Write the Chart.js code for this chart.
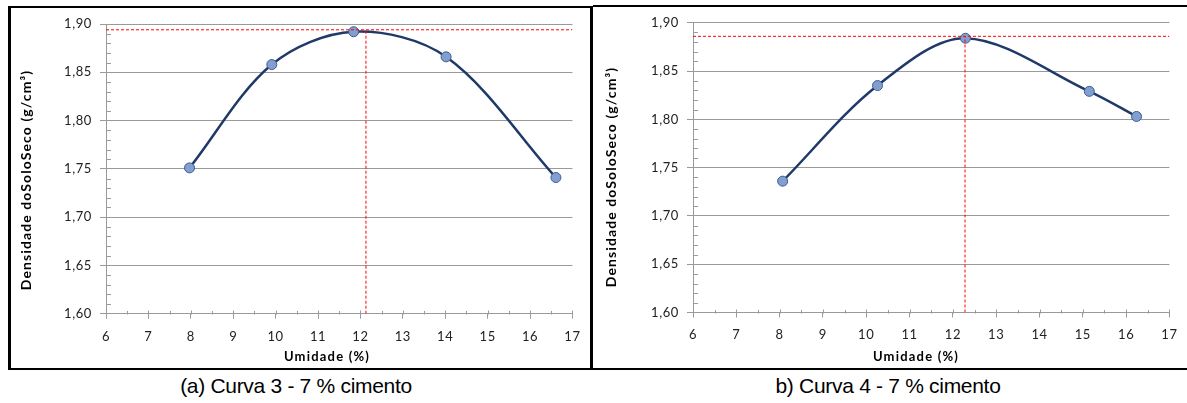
<!DOCTYPE html>
<html>
<head>
<meta charset="utf-8">
<script src="https://cdn.jsdelivr.net/npm/chart.js@4.4.1/dist/chart.umd.min.js"></script>
<style>
  html, body { margin: 0; padding: 0; background: #fff; width: 1187px; height: 403px; overflow: hidden; }
  .box { position: absolute; box-sizing: border-box; border-color: #000; border-style: solid; }
  #boxA { left: 8px; top: 6px; width: 585px; height: 364px; border-width: 2px 3px 2px 3px; }
  #boxB { left: 593px; top: 5px; width: 600px; height: 365px; border-width: 2px 0 2px 0; }
  canvas { position: absolute; }
  #chartA { left: 11px; top: 8px; }
  #chartB { left: 593px; top: 7px; }
  .caption { position: absolute; top: 374px; height: 24px; line-height: 24px; font: 21px 'Liberation Sans', Arial, sans-serif; letter-spacing: -0.3px; color: #000; text-align: center; width: 400px; }
</style>
</head>
<body>
<div class="box" id="boxA"></div>
<div class="box" id="boxB"></div>
<canvas id="chartA" width="579" height="360"></canvas>
<canvas id="chartB" width="594" height="361"></canvas>
<div class="caption" style="left:96px">(a) Curva 3 - 7 % cimento</div>
<div class="caption" style="left:688px">b) Curva 4 - 7 % cimento</div>
<script>
// Curva 3 - 7 % cimento
const umidadeA = [7.97, 9.91, 11.84, 14.02, 16.61];
const densidadeA = [1.751, 1.858, 1.892, 1.866, 1.741];
const umidadeOtimaA = 12.13;
const densidadeMaxA = 1.894;

// Curva 4 - 7 % cimento
const umidadeB = [8.07, 10.26, 12.29, 15.15, 16.24];
const densidadeB = [1.736, 1.835, 1.884, 1.829, 1.803];
const umidadeOtimaB = 12.28;
const densidadeMaxB = 1.886;

const X_MIN = 6, X_MAX = 17;
const Y_MIN = 1.60, Y_MAX = 1.90;
const X_TITLE = 'Umidade (%)';
const Y_TITLE = 'Densidade doSoloSeco (g/cm\u00B3)';

const AXIS_GREY = '#9a9a9a';
const LINE_BLUE = '#1f3a68';

// minor ticks + axis titles (Excel style)
const excelAxes = {
  id: 'excelAxes',
  beforeDraw(chart) { chart.ctx.letterSpacing = '0.6px'; },
  afterDraw(chart, args, o) {
    const { ctx, scales: { x, y } } = chart;
    ctx.save();
    ctx.letterSpacing = '0px';
    ctx.strokeStyle = AXIS_GREY;
    ctx.lineWidth = 1;
    ctx.beginPath();
    const axisX = Math.round(x.left) + 0.5, axisY = Math.round(y.bottom) + 0.5;
    for (let v = 1.61; v < Y_MAX; v += 0.01) {
      if (Math.abs(v * 20 - Math.round(v * 20)) < 1e-6) continue;
      const py = Math.round(y.getPixelForValue(v)) + 0.5;
      ctx.moveTo(axisX, py); ctx.lineTo(axisX + 4.5, py);
    }
    for (let v = X_MIN + 0.5; v <= X_MAX; v += 0.5) {
      const px = Math.round(x.getPixelForValue(v)) + 0.5;
      ctx.moveTo(px, axisY); ctx.lineTo(px, axisY - (Number.isInteger(v) ? 4 : 3.5));
    }
    ctx.stroke();

    ctx.fillStyle = '#000';
    ctx.textAlign = 'center';
    ctx.textBaseline = 'middle';
    ctx.font = 'bold 13px Lato, sans-serif';
    ctx.letterSpacing = '1.2px';
    ctx.fillText(X_TITLE, o.xTitleX, o.xTitleY);
    ctx.translate(o.yTitleX, o.yTitleY);
    ctx.rotate(-Math.PI / 2);
    ctx.font = 'bold 14px Lato, sans-serif';
    ctx.letterSpacing = '1.1px';
    ctx.fillText(Y_TITLE, 0, 0);
    ctx.restore();
  }
};

function makeChart(id, umidade, densidade, umidadeOtima, densidadeMax, geo) {
  const points = umidade.map((u, i) => ({ x: u, y: densidade[i] }));
  return new Chart(document.getElementById(id), {
    type: 'scatter',
    data: {
      datasets: [
        { data: [{ x: X_MIN, y: densidadeMax }, { x: X_MAX, y: densidadeMax }], showLine: true, borderColor: '#ff0000', borderWidth: 1, borderDash: [3, 2], pointRadius: 0, order: 0 },
        { data: [{ x: umidadeOtima, y: Y_MIN }, { x: umidadeOtima, y: densidadeMax }], showLine: true, borderColor: '#ff0000', borderWidth: 1, borderDash: [3, 2], pointRadius: 0, order: 0 },
        { data: points, showLine: true, tension: 0.33, borderColor: LINE_BLUE, borderWidth: 2.5,
          pointRadius: 5, pointBackgroundColor: '#829fd0', pointBorderColor: '#3b5d93', pointBorderWidth: 1, order: 1 },
      ],
    },
    options: {
      responsive: false, animation: false,
      layout: { padding: { top: geo.top, right: geo.right, left: 0, bottom: 0 } },
      plugins: {
        legend: { display: false }, tooltip: { enabled: false },
        excelAxes: geo.titles,
      },
      scales: {
        x: {
          type: 'linear', min: X_MIN, max: X_MAX,
          afterFit: s => { s.height = geo.xHeight; },
          grid: { drawOnChartArea: false, color: AXIS_GREY, tickLength: 5 },
          border: { color: AXIS_GREY },
          ticks: { stepSize: 1, padding: 10, color: '#222', font: { family: 'Lato', size: 13 } },
        },
        y: {
          min: Y_MIN, max: Y_MAX,
          afterFit: s => { s.width = geo.yWidth; },
          grid: { color: AXIS_GREY, tickLength: 6 },
          border: { color: AXIS_GREY },
          ticks: { stepSize: 0.05, padding: 8, color: '#222', font: { family: 'Lato', size: 13 },
            callback: v => v.toFixed(2).replace('.', ',') },
        },
      },
    },
    plugins: [excelAxes],
  });
}

makeChart('chartA', umidadeA, densidadeA, umidadeOtimaA, densidadeMaxA, {
  top: 16, right: 11, yWidth: 95, xHeight: 54.3,
  titles: { xTitleX: 316, xTitleY: 349, yTitleX: 15.5, yTitleY: 172 },
});
makeChart('chartB', umidadeB, densidadeB, umidadeOtimaB, densidadeMaxB, {
  top: 12, right: 14, yWidth: 100, xHeight: 55.5,
  titles: { xTitleX: 323, xTitleY: 350, yTitleX: 18.7, yTitleY: 170 },
});
</script>
</body>
</html>
